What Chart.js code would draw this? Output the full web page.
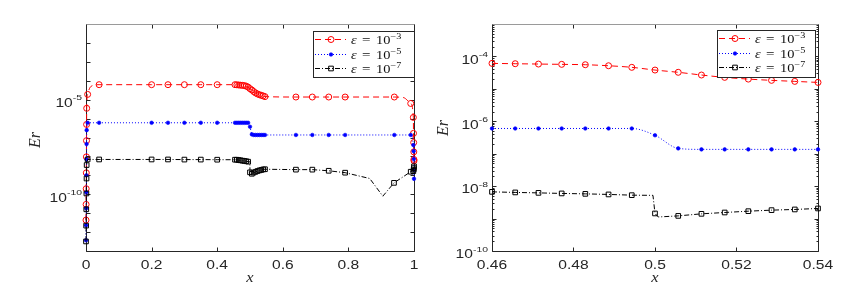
<!DOCTYPE html>
<html>
<head>
<meta charset="utf-8">
<script src="https://cdn.jsdelivr.net/npm/chart.js@4.4.1/dist/chart.umd.min.js"></script>
<style>
body { margin: 0; background: #fff; }
#wrap { position: relative; width: 868px; height: 296px; }
canvas { position: absolute; top: 0; }
</style>
</head>
<body>
<div id="wrap">
  <canvas id="full" width="434" height="296" style="left:0"></canvas>
  <canvas id="zoom" width="434" height="296" style="left:434px"></canvas>
</div>
<script>
// ---- DATA ----
const epsExps = ['\u22123', '\u22125', '\u22127'];   // legend: eps = 10^-3, 10^-5, 10^-7

// right panel, x in [0.46, 0.54]
const zoomX     = [0.46, 0.4657, 0.4714, 0.4771, 0.4829, 0.4886, 0.4943, 0.5, 0.5057, 0.5114, 0.5171, 0.5229, 0.5286, 0.5343, 0.54];
const zoomRed   = [6.1e-5, 5.96e-5, 5.82e-5, 5.7e-5, 5.55e-5, 5.16e-5, 4.61e-5, 3.8e-5, 3.24e-5, 2.67e-5, 2.26e-5, 2.0e-5, 1.83e-5, 1.7e-5, 1.58e-5];
const zoomBlue  = [6.0e-7, 6.0e-7, 6.0e-7, 6.0e-7, 6.0e-7, 6.0e-7, 6.0e-7, 3.7e-7, 1.46e-7, 1.36e-7, 1.36e-7, 1.36e-7, 1.36e-7, 1.36e-7, 1.36e-7];
const zoomBlack = [6.67e-9, 6.4e-9, 6.2e-9, 5.96e-9, 5.78e-9, 5.55e-9, 5.27e-9, 1.44e-9, 1.21e-9, 1.40e-9, 1.54e-9, 1.69e-9, 1.82e-9, 1.91e-9, 2.05e-9];
// black curve points without marker (jump at x = 0.5)
const zoomBlackLineX = [0.4995, 0.5008];
const zoomBlackLineY = [5.2e-9, 1.12e-9];

// left panel, x in [0, 1] (the zoom points above are part of it too)
const fullRedX = [0, 0.0003, 0.0006, 0.0009, 0.0012, 0.0015, 0.0018, 0.0021, 0.005, 0.04, 0.2, 0.25, 0.3, 0.35, 0.4, 0.4543, 0.5457, 0.64, 0.69, 0.74, 0.79, 0.94, 0.99, 0.998, 0.9985, 0.999, 0.9994, 0.9997, 1];
const fullRedY = [4.3e-12, 2.9e-11, 1.95e-10, 1.35e-9, 9.5e-9, 6.8e-8, 4.9e-7, 3.5e-6, 1.9e-5, 6.2e-5, 6.2e-5, 6.2e-5, 6.2e-5, 6.2e-5, 6.2e-5, 6.2e-5, 1.45e-5, 1.38e-5, 1.38e-5, 1.38e-5, 1.38e-5, 1.38e-5, 6.3e-6, 1.15e-6, 1.66e-7, 5.4e-8, 1.74e-8, 6.9e-9, 5.9e-9];
const fullRedLineX = [0.015, 0.967];
const fullRedLineY = [5.0e-5, 1.3e-5];

const fullBlueX = [0, 0.0003, 0.0006, 0.0009, 0.0012, 0.0015, 0.0018, 0.0021, 0.005, 0.04, 0.2, 0.25, 0.3, 0.35, 0.4, 0.4543, 0.5457, 0.64, 0.69, 0.74, 0.79, 0.94, 0.99, 0.998, 0.999, 0.9994, 0.9997, 1];
const fullBlueY = [3.7e-13, 2.3e-12, 1.8e-11, 1.26e-10, 1.0e-9, 7.1e-9, 4.5e-8, 2.45e-7, 6.0e-7, 6.0e-7, 6.0e-7, 6.0e-7, 6.0e-7, 6.0e-7, 6.0e-7, 6.0e-7, 1.36e-7, 1.36e-7, 1.36e-7, 1.36e-7, 1.36e-7, 1.36e-7, 1.36e-7, 4.0e-8, 1.9e-8, 7.2e-9, 2.0e-9, 6.5e-10];

const fullBlackX = [0, 0.0004, 0.0008, 0.0012, 0.0016, 0.002, 0.005, 0.04, 0.2, 0.25, 0.3, 0.35, 0.4, 0.4543, 0.5457, 0.64, 0.69, 0.74, 0.79, 0.939, 0.99, 0.998, 0.999, 0.9995, 1];
const fullBlackY = [3.2e-13, 2.2e-12, 1.6e-11, 1.1e-10, 6.8e-10, 3.5e-9, 6.9e-9, 6.9e-9, 6.9e-9, 6.9e-9, 6.8e-9, 6.8e-9, 6.7e-9, 6.7e-9, 2.1e-9, 2.0e-9, 2.0e-9, 1.74e-9, 1.38e-9, 4.0e-10, 1.55e-9, 1.66e-9, 2.0e-9, 2.4e-9, 3.0e-9];
const fullBlackLineX = [0.865, 0.905];
const fullBlackLineY = [6.8e-10, 7.9e-11];

// ticks
const fullXTicks = [0, 0.2, 0.4, 0.6, 0.8, 1];
const fullXLabels = ['0', '0.2', '0.4', '0.6', '0.8', '1'];
const fullYTicks = [1e-5, 1e-10];
const fullYExps = ['-5', '-10'];
const zoomXTicks = [0.46, 0.48, 0.5, 0.52, 0.54];
const zoomXLabels = ['0.46', '0.48', '0.5', '0.52', '0.54'];
const zoomYTicks = [1e-4, 1e-6, 1e-8, 1e-10];
const zoomYExps = ['-4', '-6', '-8', '-10'];

// ---- STYLE ----
const seriesStyle = [
  {color: '#ff0000', dash: [6, 4], point: 'circle', radius: 3, fill: 'rgba(255,255,255,0)', bw: 1, mono: true},
  {color: '#0000ff', dash: [1, 2], point: 'circle', radius: 1.8, fill: '#0000ff', bw: 0.6, mono: true},
  {color: '#000000', dash: [5, 2, 1, 2], point: 'rect', radius: 3.3, fill: 'rgba(255,255,255,0)', bw: 1, mono: false}
];

function pts(xs, ys) { return xs.map((x, i) => ({x: x, y: ys[i]})); }
function joined() { return [].concat(...arguments).sort((a, b) => a.x - b.x); }

function buildDatasets(series) {
  const out = [];
  series.forEach((s, i) => {
    const st = seriesStyle[i];
    out.push({
      data: s.line, borderColor: st.color, borderWidth: 1, borderDash: st.dash,
      pointRadius: 0, fill: false, clip: false, order: 10 - 2 * i,
      cubicInterpolationMode: st.mono ? 'monotone' : 'default', tension: 0
    });
    out.push({
      data: s.marks, showLine: false, clip: false, order: 9 - 2 * i,
      pointStyle: st.point, pointRadius: st.radius, pointBorderWidth: st.bw,
      pointBorderColor: st.color, pointBackgroundColor: st.fill
    });
  });
  return out;
}

function drawStretched(ctx, str, x, y, font, sx, align) {
  ctx.save();
  ctx.font = font;
  ctx.textBaseline = 'alphabetic';
  ctx.textAlign = 'left';
  const w = ctx.measureText(str).width * sx;
  const x0 = align === 'right' ? x - w : (align === 'center' ? x - w / 2 : x);
  ctx.translate(x0, y);
  ctx.scale(sx, 1);
  ctx.fillText(str, 0, 0);
  ctx.restore();
  return w;
}

const SANS = '"Liberation Sans", Arial, sans-serif';
const SERIF = '"Liberation Serif", "Times New Roman", serif';

const framePlugin = {
  id: 'frame',
  beforeDatasetsDraw(chart, args, o) {
    const ctx = chart.ctx, a = chart.chartArea, xs = chart.scales.x, ys = chart.scales.y;
    const L = a.left + 0.5, R = a.right + 0.5, T = a.top + 0.5, B = a.bottom + 0.5;
    ctx.save();
    ctx.lineWidth = 1;
    ctx.strokeStyle = '#262626';
    ctx.beginPath();
    o.xTicks.forEach(v => {
      const px = Math.round(xs.getPixelForValue(v)) + 0.5;
      ctx.moveTo(px, B); ctx.lineTo(px, B - 4);
      ctx.moveTo(px, T); ctx.lineTo(px, T + 4);
    });
    const k0 = Math.round(Math.log10(ys.min)), k1 = Math.round(Math.log10(ys.max));
    for (let k = k0; k <= k1; k++) {
      for (let m = 1; m <= (o.minor ? 9 : 1); m++) {
        const v = m * Math.pow(10, k);
        if (v > ys.max * 1.0001) continue;
        const py = Math.round(ys.getPixelForValue(v)) + 0.5;
        const len = m === 1 ? 4 : 2;
        ctx.moveTo(L, py); ctx.lineTo(L + len, py);
        ctx.moveTo(R, py); ctx.lineTo(R - len, py);
      }
    }
    ctx.stroke();
    ctx.beginPath();
    ctx.moveTo(L, T); ctx.lineTo(L, B); ctx.lineTo(R, B); ctx.lineTo(R, T);
    ctx.stroke();
    ctx.strokeStyle = '#9a9a9a';
    ctx.beginPath(); ctx.moveTo(L, T); ctx.lineTo(R, T); ctx.stroke();

    ctx.fillStyle = '#262626';
    o.xTicks.forEach((v, i) => {
      drawStretched(ctx, o.xLabels[i], xs.getPixelForValue(v), a.bottom + 18, '12px ' + SANS, 1.3, 'center');
    });
    o.yTicks.forEach((v, i) => {
      const py = ys.getPixelForValue(v);
      const right = a.left - 4;
      ctx.font = '8px ' + SANS;
      const ws = ctx.measureText(o.yExps[i]).width * 1.3;
      drawStretched(ctx, o.yExps[i], right, py + 0.5, '8px ' + SANS, 1.3, 'right');
      drawStretched(ctx, '10', right - ws, py + 7.3, '12px ' + SANS, 1.3, 'right');
    });

    // axis titles
    drawStretched(ctx, 'x', o.xTitle[0], o.xTitle[1], 'italic 15px ' + SERIF, 1.1, 'center');
    ctx.save();
    ctx.translate(o.yTitle[0], o.yTitle[1]);
    ctx.rotate(-Math.PI / 2);
    ctx.font = 'italic 16px ' + SERIF;
    ctx.textAlign = 'center';
    ctx.textBaseline = 'middle';
    ctx.fillText('Er', 0, 0);
    ctx.restore();
    ctx.restore();
  }
};

function drawMarker(ctx, st, x, y) {
  ctx.save();
  ctx.setLineDash([]);
  ctx.lineWidth = st.bw;
  ctx.strokeStyle = st.color;
  ctx.fillStyle = st.fill;
  ctx.beginPath();
  if (st.point === 'rect') {
    const h = st.radius * Math.SQRT1_2;
    ctx.rect(x - h, y - h, 2 * h, 2 * h);
  } else {
    ctx.arc(x, y, st.radius, 0, Math.PI * 2);
  }
  ctx.fill();
  ctx.stroke();
  ctx.restore();
}

const legendPlugin = {
  id: 'epsLegend',
  afterDraw(chart, args, o) {
    const ctx = chart.ctx, b = o.box;
    ctx.save();
    ctx.fillStyle = '#fff';
    ctx.fillRect(b.x, b.y, b.w, b.h);
    ctx.strokeStyle = '#262626';
    ctx.lineWidth = 1;
    ctx.strokeRect(b.x + 0.5, b.y + 0.5, b.w, b.h);
    seriesStyle.forEach((st, i) => {
      const cy = Math.round(b.y + 8 + i * 14.6) + 0.5;
      ctx.strokeStyle = st.color;
      ctx.lineWidth = 1;
      ctx.setLineDash(st.dash);
      ctx.beginPath(); ctx.moveTo(b.x + 2, cy); ctx.lineTo(b.x + 33, cy); ctx.stroke();
      ctx.setLineDash([]);
      drawMarker(ctx, st, b.x + 18, cy);
      ctx.fillStyle = '#111';
      drawStretched(ctx, '\u03b5', b.x + 38, cy + 4, 'italic 12px ' + SERIF, 1.2, 'left');
      drawStretched(ctx, '=', b.x + 49, cy + 4, '12px ' + SERIF, 1.25, 'left');
      drawStretched(ctx, '10', b.x + 63, cy + 4, '12px ' + SERIF, 1.2, 'left');
      drawStretched(ctx, epsExps[i], b.x + 77.5, cy - 1, '8.5px ' + SERIF, 1.2, 'left');
    });
    ctx.restore();
  }
};

function makeChart(id, cfg) {
  return new Chart(document.getElementById(id), {
    type: 'line',
    data: {datasets: buildDatasets(cfg.series)},
    options: {
      responsive: false,
      animation: false,
      devicePixelRatio: 1,
      layout: {padding: cfg.padding},
      scales: {
        x: {type: 'linear', min: cfg.xMin, max: cfg.xMax, display: false},
        y: {type: 'logarithmic', min: cfg.yMin, max: cfg.yMax, display: false}
      },
      plugins: {
        legend: {display: false},
        tooltip: {enabled: false},
        frame: cfg.frame,
        epsLegend: {box: cfg.legendBox}
      }
    },
    plugins: [framePlugin, legendPlugin]
  });
}

const zoomRedPts = pts(zoomX, zoomRed);
const zoomBluePts = pts(zoomX, zoomBlue);
const zoomBlackPts = pts(zoomX, zoomBlack);
const zoomBlackExtra = pts(zoomBlackLineX, zoomBlackLineY);

makeChart('full', {
  padding: {left: 86, top: 24, right: 20, bottom: 45},
  xMin: 0, xMax: 1, yMin: 1e-13, yMax: 1e-1,
  series: [
    {marks: joined(pts(fullRedX, fullRedY), zoomRedPts),
     line: joined(pts(fullRedX, fullRedY), zoomRedPts, pts(fullRedLineX, fullRedLineY))},
    {marks: joined(pts(fullBlueX, fullBlueY), zoomBluePts),
     line: joined(pts(fullBlueX, fullBlueY), zoomBluePts)},
    {marks: joined(pts(fullBlackX, fullBlackY), zoomBlackPts),
     line: joined(pts(fullBlackX, fullBlackY), zoomBlackPts, zoomBlackExtra, pts(fullBlackLineX, fullBlackLineY))}
  ],
  frame: {xTicks: fullXTicks, xLabels: fullXLabels, yTicks: fullYTicks, yExps: fullYExps,
          minor: false, xTitle: [250, 282], yTitle: [36, 140]},
  legendBox: {x: 313, y: 31, w: 101, h: 46}
});

makeChart('zoom', {
  padding: {left: 58, top: 24, right: 50, bottom: 45},
  xMin: 0.46, xMax: 0.54, yMin: 1e-10, yMax: 1e-3,
  series: [
    {marks: zoomRedPts, line: zoomRedPts},
    {marks: zoomBluePts, line: zoomBluePts},
    {marks: zoomBlackPts, line: joined(zoomBlackPts, zoomBlackExtra)}
  ],
  frame: {xTicks: zoomXTicks, xLabels: zoomXLabels, yTicks: zoomYTicks, yExps: zoomYExps,
          minor: true, xTitle: [221, 282], yTitle: [10, 128]},
  legendBox: {x: 283, y: 30, w: 98, h: 47}
});
</script>
</body>
</html>
